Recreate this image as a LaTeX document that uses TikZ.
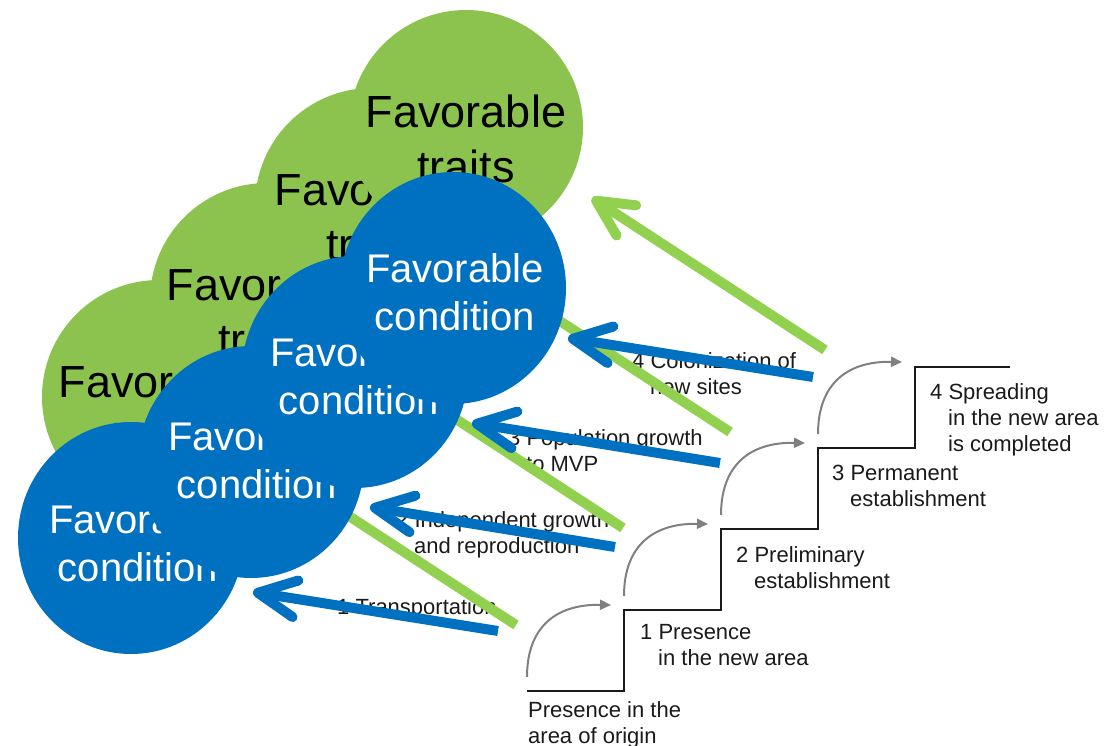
\documentclass[tikz,border=0pt]{standalone}
\usepackage{fontspec}
\setmainfont{Liberation Sans}
\usetikzlibrary{arrows.meta,shapes.geometric}
\definecolor{leaf}{RGB}{139,195,78}
\definecolor{leafline}{RGB}{146,208,80}
\definecolor{ocean}{RGB}{0,112,192}
\definecolor{ink}{RGB}{26,26,26}
\definecolor{stepgray}{RGB}{128,128,128}

\begin{document}
\begin{tikzpicture}[x=1pt,y=-1pt,
  traitdisc/.style={circle,fill=leaf,minimum size=234pt,inner sep=0pt},
  conddisc/.style={ellipse,fill=ocean,minimum width=226pt,minimum height=232pt,inner sep=0pt},
  traittext/.style={align=center,font=\fontsize{45}{55}\selectfont,text=black,inner sep=0pt},
  condtext/.style={align=center,font=\fontsize{40}{48}\selectfont,text=white,inner sep=0pt},
  phase/.style={align=left,anchor=west,inner sep=0pt,font=\fontsize{22}{26}\selectfont,text=ink},
  greenarrow/.style={draw=leafline,line width=10pt,-{Straight Barb[length=36pt,width=36pt,round]}},
  bluearrow/.style={draw=ocean,line width=10pt,-{Straight Barb[length=38pt,width=37pt,round]}},
  hop/.style={draw=stepgray,line width=2pt,-{Triangle[length=11pt,width=10pt]}},
  stair/.style={draw=ink,line width=2.2pt},
]
\useasboundingbox (0,0) rectangle (1109,746);

% green discs: favorable traits (bottom-left first, top-right on top)
\node[traitdisc] (g4) at (159,397) {};
\node[traittext] (g4t) at ([yshift=-12pt]g4) {Favorable\\traits};
\node[traitdisc] (g3) at (267,300) {};
\node[traittext] (g3t) at ([yshift=-12pt]g3) {Favorable\\traits};
\node[traitdisc] (g2) at (372,205) {};
\node[traittext] (g2t) at ([xshift=3pt,yshift=-12pt]g2) {Favorable\\traits};
\node[traitdisc] (g1) at (466,127) {};
\node[traittext] (g1t) at ([yshift=-12pt]g1) {Favorable\\traits};

% labels of the transitions
\node[phase] (t1) at (337,609) {1 Transportation};
\node[phase] (t2) at (396,535) {2 Independent growth\\\hspace*{18pt}and reproduction};
\node[phase] (t3) at (508,450.5) {3 Population growth\\\hspace*{18pt}to MVP};
\node[phase] (t4) at (632,373.5) {4 Colonization of\\\hspace*{18pt}new sites};

% green arrows toward the traits
\coordinate (gs1) at (516,625); \coordinate (ge1) at (283,473);
\coordinate (gs2) at (623,528); \coordinate (ge2) at (390,376);
\coordinate (gs3) at (730,432); \coordinate (ge3) at (497,280);
\coordinate (gs4) at (825,350); \coordinate (ge4) at (592,198);
\draw[greenarrow] (gs1) -- (ge1);
\draw[greenarrow] (gs2) -- (ge2);
\draw[greenarrow] (gs3) -- (ge3);
\draw[greenarrow] (gs4) -- (ge4);

% blue discs: favorable conditions
\node[conddisc] (b4) at (131,538) {};
\node[condtext] (b4t) at ([xshift=7pt,yshift=-5pt]b4) {Favorable\\condition};
\node[conddisc] (b3) at (251,462) {};
\node[condtext] (b3t) at ([xshift=6pt,yshift=2pt]b3) {Favorable\\condition};
\node[conddisc] (b2) at (355,372) {};
\node[condtext] (b2t) at ([xshift=4pt,yshift=-4pt]b2) {Favorable\\condition};
\node[conddisc] (b1) at (453,288) {};
\node[condtext] (b1t) at ([xshift=2pt,yshift=-4pt]b1) {Favorable\\condition};

% blue arrows toward the conditions
\coordinate (bs1) at (498,631); \coordinate (be1) at (253,592);
\coordinate (bs2) at (615,547); \coordinate (be2) at (370,507);
\coordinate (bs3) at (720,463); \coordinate (be3) at (472,423);
\coordinate (bs4) at (813,377); \coordinate (be4) at (568,338);
\draw[bluearrow] (bs1) -- (be1);
\draw[bluearrow] (bs2) -- (be2);
\draw[bluearrow] (bs3) -- (be3);
\draw[bluearrow] (bs4) -- (be4);

% staircase of invasion stages
\draw[stair] (527,691) -- (624,691) -- (624,610) -- (721,610) -- (721,529)
  -- (818,529) -- (818,448) -- (915,448) -- (915,367) -- (1010,367);

% curved step arrows
\coordinate (hs0) at (527,677); \coordinate (he0) at (611,605);
\coordinate (hs1) at (624,596); \coordinate (he1) at (708,524);
\coordinate (hs2) at (721,515); \coordinate (he2) at (805,443);
\coordinate (hs3) at (818,434); \coordinate (he3) at (902,362);
\draw[hop] (hs0) .. controls +(0,-50) and +(-55,-1) .. (he0);
\draw[hop] (hs1) .. controls +(0,-50) and +(-55,-1) .. (he1);
\draw[hop] (hs2) .. controls +(0,-50) and +(-55,-1) .. (he2);
\draw[hop] (hs3) .. controls +(0,-50) and +(-55,-1) .. (he3);

% stage labels
\node[phase] (s0) at (528,725) {Presence in the\\area of origin};
\node[phase] (s1) at (640,645.5) {1 Presence\\\hspace*{18pt}in the new area};
\node[phase] (s2) at (736,567.5) {2 Preliminary\\\hspace*{18pt}establishment};
\node[phase] (s3) at (832,485.5) {3 Permanent\\\hspace*{18pt}establishment};
\node[phase] (s4) at (930,420) {4 Spreading\\\hspace*{18pt}in the new area\\\hspace*{18pt}is completed};
\end{tikzpicture}
\end{document}
